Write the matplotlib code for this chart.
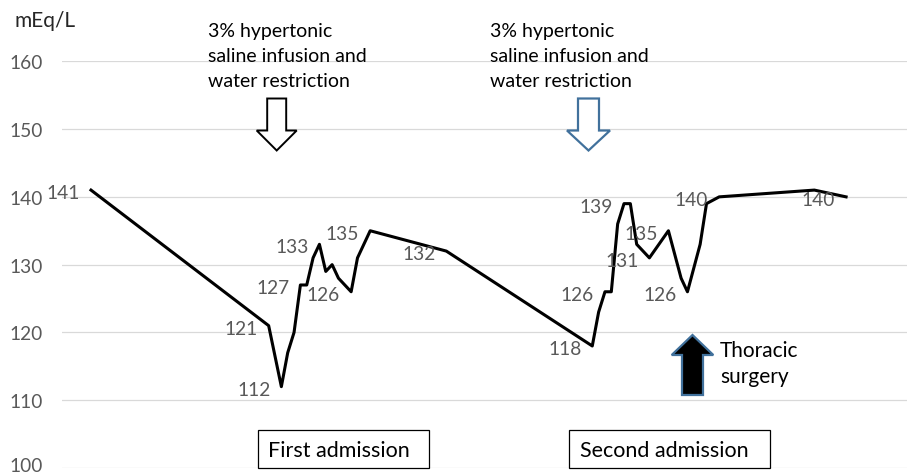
import matplotlib
matplotlib.use("Agg")
import matplotlib.pyplot as plt
import matplotlib.transforms as mtransforms
from matplotlib.patches import Polygon, Rectangle

# ---- data ----
days = [0, 28, 30, 31, 32, 33, 34, 35, 36, 37, 38, 39, 41, 42, 44, 56,
        79, 80, 81, 82, 83, 84, 85, 86, 88, 91, 93, 94, 96, 97, 99, 114, 119]
sodium = [141, 121, 112, 117, 120, 127, 127, 131, 133, 129, 130, 128, 126, 131, 135, 132,
          118, 123, 126, 126, 136, 139, 139, 133, 131, 135, 128, 126, 133, 139, 140, 141, 140]
labeled_idx = [0, 1, 2, 5, 8, 12, 14, 15, 16, 18, 21, 24, 25, 27, 30, 32]
y_ticks = [100, 110, 120, 130, 140, 150, 160]
unit_label = "mEq/L"
treatment_text = ["3% hypertonic", "saline infusion and", "water restriction"]
surgery_text = ["Thoracic", "surgery"]
admissions = ["First admission", "Second admission"]

W, H = 907, 477
FONT = ["Lato", "DejaVu Sans"]
plt.rcParams["font.family"] = FONT

fig = plt.figure(figsize=(W / 100, H / 100), dpi=100)
ax = fig.add_axes([62 / W, (H - 469) / H, (W - 62) / W, (469 - 62.3) / H])

ax.plot(days, sodium, color="black", lw=2.2, solid_joinstyle="round", zorder=3)
ax.set_xlim(-4.57, 128.6)
ax.set_ylim(100, 160)
ax.set_yticks(y_ticks)
ax.set_xticks([])
ax.grid(axis="y", color="#D9D9D9", lw=0.9)
ax.set_axisbelow(True)
for s in ax.spines.values():
    s.set_visible(False)
ax.tick_params(axis="y", length=0, pad=14, labelsize=13.8, labelcolor="#595959")
for lab in ax.get_yticklabels():
    lab.set_verticalalignment("center_baseline")
# nudge the lowest tick label up a little so it stays inside the canvas
low = ax.yaxis.get_major_ticks()[0].label1
low.set_transform(low.get_transform() +
                  mtransforms.ScaledTranslation(0, 3.5 / 100, fig.dpi_scale_trans))

for i in labeled_idx:
    ax.annotate(f"{sodium[i]:.0f}", (days[i], sodium[i]), xytext=(-11, -1),
                textcoords="offset pixels", ha="right", va="center_baseline",
                fontsize=13.8, color="#595959", zorder=4)


def ptext(px, py, s, **kw):
    fig.text(px / W, 1 - py / H, s, **kw)


def ppoly(pts, **kw):
    fig.add_artist(Polygon([(x / W, 1 - y / H) for x, y in pts], closed=True,
                           transform=fig.transFigure, **kw))


ptext(15, 27, unit_label, fontsize=15, color="#262626", va="baseline")

for left in (208, 490):
    for k, line in enumerate(treatment_text):
        ptext(left, 37 + k * 25, line, fontsize=14, color="black", va="baseline")


def down_arrow(cx, top, base, tip, shaft_w, head_w):
    return [(cx - shaft_w / 2, top), (cx + shaft_w / 2, top), (cx + shaft_w / 2, base),
            (cx + head_w / 2, base), (cx, tip), (cx - head_w / 2, base),
            (cx - shaft_w / 2, base)]


ppoly(down_arrow(276.7, 99.5, 131.5, 151.5, 19, 40), facecolor="white",
      edgecolor="black", lw=1.4, joinstyle="miter")
ppoly(down_arrow(588.5, 99.5, 131.5, 151.5, 21, 43), facecolor="white",
      edgecolor="#41719C", lw=1.6, joinstyle="miter")
ppoly(down_arrow(692.5, 396, 356, 336, 21, 41.6), facecolor="black",
      edgecolor="#41719C", lw=1.6, joinstyle="miter")

for k, line in enumerate(surgery_text):
    ptext(720, 356.7 + k * 26.5, line, fontsize=15, color="black", va="baseline")

for (x0, x1, tx), name in zip([(258, 429, 268), (569, 770, 580)], admissions):
    fig.add_artist(Rectangle((x0 / W, 1 - 469 / H), (x1 - x0) / W, 38 / H,
                             transform=fig.transFigure, facecolor="white",
                             edgecolor="black", lw=0.9))
    ptext(tx, 457.5, name, fontsize=15.5, color="black", va="baseline")

fig.savefig("out.png", dpi=100)
